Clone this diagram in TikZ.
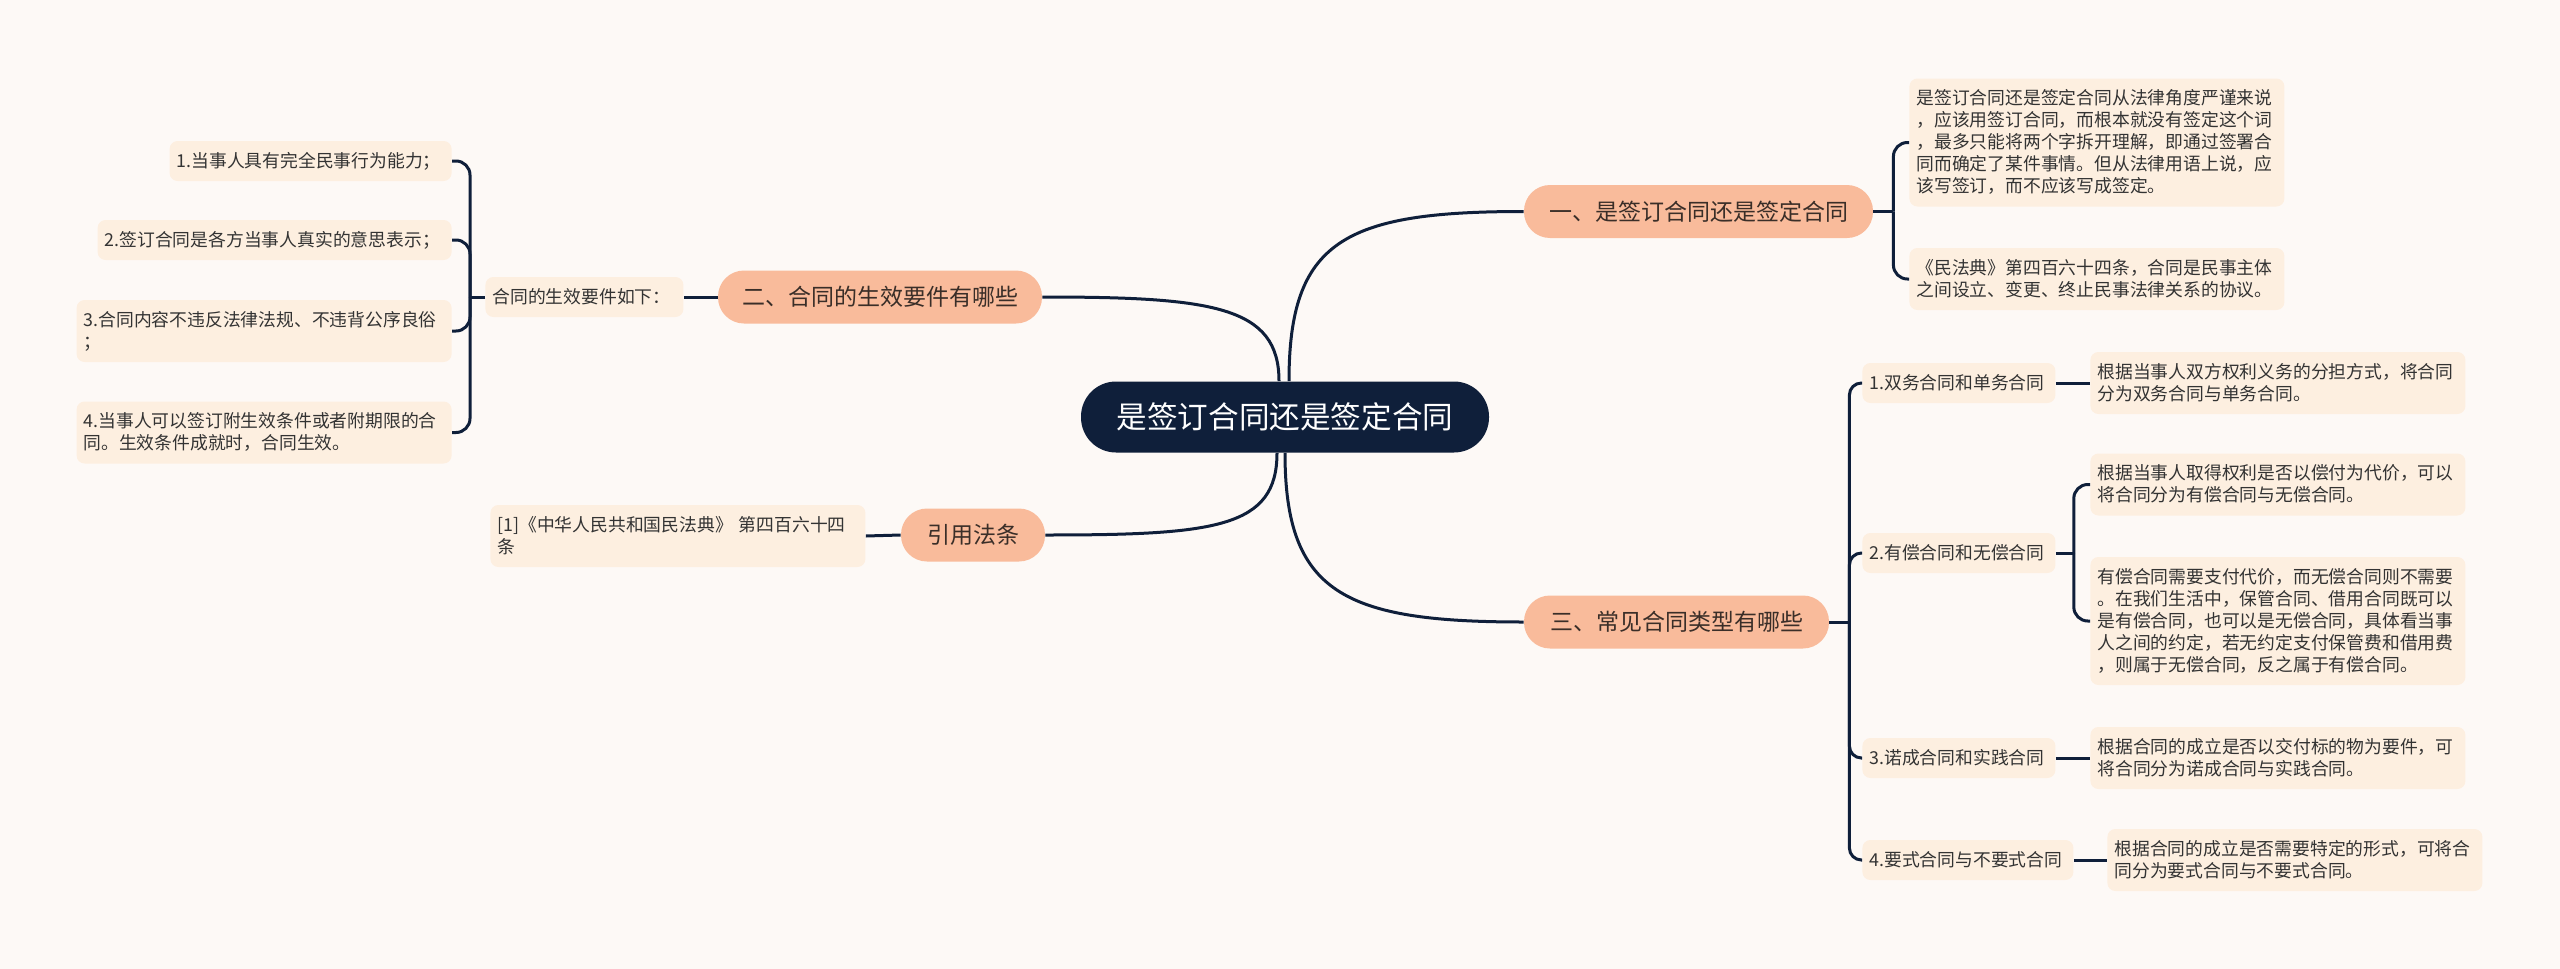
\documentclass[tikz,border=0pt]{standalone}
\usepackage{fontspec}
\setmainfont{Noto Sans CJK SC}
\usetikzlibrary{calc}
\definecolor{bgc}{HTML}{FDF9F6}
\definecolor{navy}{HTML}{0F1F3A}
\definecolor{salmon}{HTML}{F9BB9B}
\definecolor{peach}{HTML}{FDEFE0}
\definecolor{txt}{HTML}{333333}
\definecolor{ltxt}{HTML}{3A2E28}
\newcommand\boxstrut{\rule[-2.3pt]{0pt}{11pt}}
\begin{document}
\begin{tikzpicture}[x=0.5pt,y=-0.5pt,
  rootnode/.style={fill=navy,text=white,rounded corners=17.5pt,minimum width=204pt,minimum height=35.5pt,inner sep=0pt,font=\fontsize{15.3}{18}\selectfont},
  lvl/.style={fill=salmon,text=ltxt,rounded corners=13pt,minimum height=26.5pt,inner sep=0pt,font=\fontsize{11.5}{14}\selectfont},
  detail/.style={fill=peach,text=txt,rounded corners=4pt,align=left,inner xsep=3.5pt,inner ysep=4.5pt,
    font=\fontsize{8.9}{11}\selectfont,execute at begin node=\boxstrut,execute at end node=\boxstrut},
  wide/.style={detail,text width=180.5pt},
  conn/.style={draw=navy,line width=1.5pt},
  bendline/.style={conn,rounded corners=7pt}]
\path[use as bounding box,fill=bgc] (0,0) rectangle (2560,969);

% root
\node[rootnode] (root) at (1285,417) {是签订合同还是签定合同};

% level 1
\node[lvl,minimum width=174.5pt] (n1) at (1698.5,211.5) {一、是签订合同还是签定合同};
\node[lvl,minimum width=152.5pt] (n3) at (1676.5,622) {三、常见合同类型有哪些};
\node[lvl,minimum width=162pt] (n2) at (880,297) {二、合同的生效要件有哪些};
\node[lvl,minimum width=72pt] (n4) at (973,535) {引用法条};

% branch one
\node[wide,anchor=west] (a1) at (1909,142.5) {是签订合同还是签定合同从法律角度严谨来说\\，应该用签订合同，而根本就没有签定这个词\\，最多只能将两个字拆开理解，即通过签署合\\同而确定了某件事情。但从法律用语上说，应\\该写签订，而不应该写成签定。};
\node[wide,anchor=west] (a2) at (1909,279) {《民法典》第四百六十四条，合同是民事主体\\之间设立、变更、终止民事法律关系的协议。};

% branch three
\node[detail,text width=89.5pt,anchor=west] (t1) at (1862,383) {1.双务合同和单务合同};
\node[detail,text width=89.5pt,anchor=west] (t2) at (1862,553) {2.有偿合同和无偿合同};
\node[detail,text width=89.5pt,anchor=west] (t3) at (1862,758) {3.诺成合同和实践合同};
\node[detail,text width=98.5pt,anchor=west] (t4) at (1862,860) {4.要式合同与不要式合同};
\node[wide,anchor=west] (d1) at (2090,383) {根据当事人双方权利义务的分担方式，将合同\\分为双务合同与单务合同。};
\node[wide,anchor=west] (d2) at (2090,484.5) {根据当事人取得权利是否以偿付为代价，可以\\将合同分为有偿合同与无偿合同。};
\node[wide,anchor=west] (d3) at (2090,621) {有偿合同需要支付代价，而无偿合同则不需要\\。在我们生活中，保管合同、借用合同既可以\\是有偿合同，也可以是无偿合同，具体看当事\\人之间的约定，若无约定支付保管费和借用费\\，则属于无偿合同，反之属于有偿合同。};
\node[wide,anchor=west] (d4) at (2090,758) {根据合同的成立是否以交付标的物为要件，可\\将合同分为诺成合同与实践合同。};
\node[wide,anchor=west] (d5) at (2107,860) {根据合同的成立是否需要特定的形式，可将合\\同分为要式合同与不要式合同。};

% branch two
\node[detail,text width=92pt,anchor=west] (g) at (485,297) {合同的生效要件如下：};
\node[detail,text width=134pt,anchor=east] (l1) at (452,161) {1.当事人具有完全民事行为能力；};
\node[detail,text width=170pt,anchor=east] (l2) at (452,240) {2.签订合同是各方当事人真实的意思表示；};
\node[wide,anchor=east] (l3) at (452,331) {3.合同内容不违反法律法规、不违背公序良俗\\；};
\node[wide,anchor=east] (l4) at (452,432.5) {4.当事人可以签订附生效条件或者附期限的合\\同。生效条件成就时，合同生效。};

% branch four
\node[wide,anchor=west] (r1) at (490,536) {[1]《中华人民共和国民法典》 第四百六十四\\条};

% root connectors
\draw[conn] ([xshift=2pt]root.north) .. controls +(0,-140) and +(-180,0) .. (n1.west);
\draw[conn] ([xshift=0pt]root.south) .. controls +(0,140) and +(-180,0) .. (n3.west);
\draw[conn] ([xshift=-3pt]root.north) .. controls +(0,-75) and +(170,0) .. (n2.east);
\draw[conn] ([xshift=-4pt]root.south) .. controls +(0,75) and +(170,0) .. (n4.east);

% branch one connectors
\coordinate (s1) at ([xshift=10pt]n1.east);
\draw[conn] (n1.east) -- (s1);
\draw[bendline] (s1) |- (a1.west);
\draw[bendline] (s1) |- (a2.west);

% branch three connectors
\coordinate (s3) at ([xshift=10pt]n3.east);
\draw[conn] (n3.east) -- (s3);
\draw[conn,rounded corners=6pt] (s3) |- (t1.west);
\draw[conn,rounded corners=6pt] (s3) |- (t2.west);
\draw[conn,rounded corners=6pt] (s3) |- (t3.west);
\draw[conn,rounded corners=6pt] (s3) |- (t4.west);
\draw[conn] (t1.east) -- (d1.west);
\coordinate (s4) at ([xshift=9pt]t2.east);
\draw[conn] (t2.east) -- (s4);
\draw[bendline] (s4) |- (d2.west);
\draw[bendline] (s4) |- (d3.west);
\draw[conn] (t3.east) -- (d4.west);
\draw[conn] (t4.east) -- (d5.west);

% branch two connectors
\draw[conn] (n2.west) -- (g.east);
\coordinate (s2) at ([xshift=-7.5pt]g.west);
\draw[conn] (g.west) -- (s2);
\draw[bendline] (s2) |- (l1.east);
\draw[bendline] (s2) |- (l2.east);
\draw[bendline] (s2) |- (l3.east);
\draw[bendline] (s2) |- (l4.east);

% branch four connector
\draw[conn] (n4.west) -- (r1.east);
\end{tikzpicture}
\end{document}
